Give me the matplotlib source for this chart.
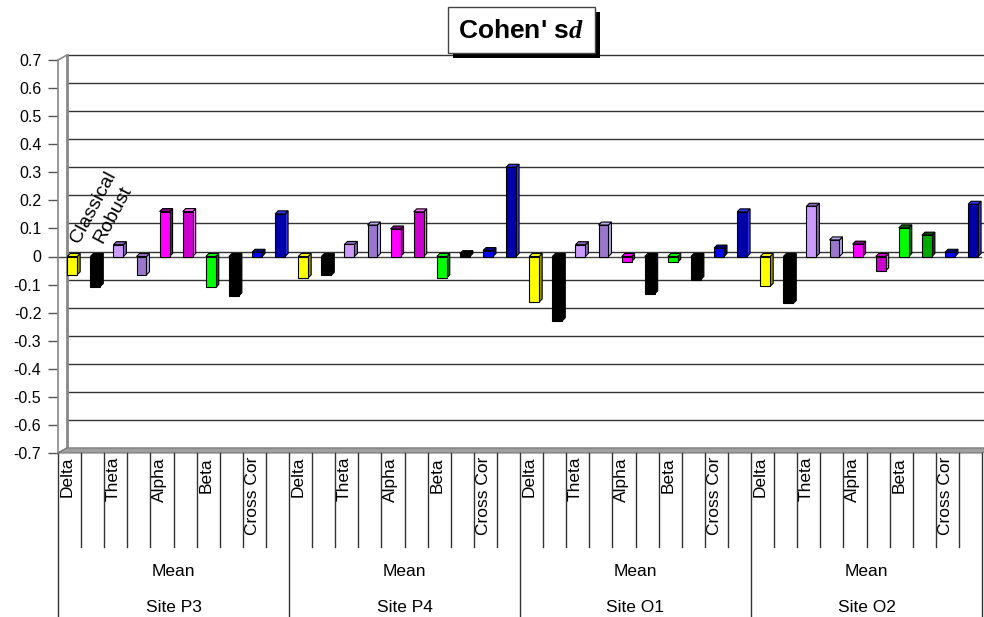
import matplotlib
matplotlib.use('Agg')
import matplotlib.pyplot as plt
from matplotlib.patches import Rectangle, Polygon

plt.rcParams['font.family'] = ['Liberation Sans', 'DejaVu Sans']
plt.rcParams['mathtext.fontset'] = 'custom'
plt.rcParams['mathtext.it'] = 'Liberation Serif:italic:bold'

# 数据：每个位点 10 根柱（5 个频带 × Classical/Robust）
sites = ['Site P3', 'Site P4', 'Site O1', 'Site O2']
bands = ['Delta', 'Theta', 'Alpha', 'Beta', 'Cross Cor']
methods = ['Classical', 'Robust']
site_p3 = [-0.065, -0.107, 0.042, -0.065, 0.160, 0.160, -0.110, -0.140, 0.015, 0.152]
site_p4 = [-0.076, -0.067, 0.043, 0.112, 0.098, 0.159, -0.076, 0.010, 0.021, 0.318]
site_o1 = [-0.162, -0.229, 0.042, 0.112, -0.018, -0.133, -0.020, -0.082, 0.030, 0.159]
site_o2 = [-0.106, -0.167, 0.179, 0.059, 0.044, -0.051, 0.102, 0.076, 0.015, 0.186]
values = site_p3 + site_p4 + site_o1 + site_o2
yticks = [-0.7, -0.6, -0.5, -0.4, -0.3, -0.2, -0.1, 0, 0.1, 0.2, 0.3, 0.4, 0.5, 0.6, 0.7]

# 颜色
base_colors = ['#FFFF00', '#000000', '#CC99FF', '#9977CC', '#FF00FF',
               '#CC00CC', '#00FF00', '#000000', '#0000FF', '#0000AA']
side_colors = {'#FFFF00': '#999900', '#000000': '#000000', '#CC99FF': '#8866BB',
               '#9977CC': '#BBAAEE', '#FF00FF': '#880088', '#CC00CC': '#FF66FF',
               '#00FF00': '#006600', '#0000FF': '#000088', '#0000AA': '#3333FF',
               '#00AA00': '#004400'}
bar_colors = base_colors * 4
bar_colors[25] = '#000000'   # O1 Alpha Robust
bar_colors[37] = '#00AA00'   # O2 Beta Robust

W, H = 984, 617
ax_left, ax_right, ax_top, ax_bottom = 58, 982, 60, 453
fig = plt.figure(figsize=(W / 100, H / 100), dpi=100)
ax = fig.add_axes([ax_left / W, 1 - ax_bottom / H,
                   (ax_right - ax_left) / W, (ax_bottom - ax_top) / H])
n = len(values)
ax.set_xlim(0, n)
ax.set_ylim(-0.7, 0.7)

px_x = (ax_right - ax_left) / n          # 每格像素
px_y = (ax_bottom - ax_top) / 1.4        # 每单位像素
DX, DY = 9 / px_x, 5 / px_y              # 背墙偏移
bdx, bdy = 3 / px_x, 3 / px_y            # 柱子厚度

# 背墙网格线
for v in yticks:
    ax.plot([DX, n + DX], [v + DY, v + DY], color='#333333', lw=1.0,
            clip_on=False, zorder=1)
# 左侧墙与底面
ax.plot([DX, DX], [-0.7 + DY, 0.7 + DY], color='#888888', lw=2, clip_on=False, zorder=1)
ax.plot([0, DX], [0.7, 0.7 + DY], color='#888888', lw=1.2, clip_on=False, zorder=1)
ax.plot([0, DX], [-0.7, -0.7 + DY], color='#888888', lw=1.2, clip_on=False, zorder=1)
ax.add_patch(Polygon([(0, -0.7), (n, -0.7), (n + DX, -0.7 + DY), (DX, -0.7 + DY)],
                     closed=True, facecolor='#A0A0A0', edgecolor='#777777',
                     lw=0.8, clip_on=False, zorder=2))
ax.plot([0, n], [0, 0], color='#444444', lw=1.0, zorder=2)

# 柱子
for i, (v, c) in enumerate(zip(values, bar_colors)):
    x0, x1 = i + 0.40, i + 0.83
    sc = side_colors[c]
    ec = 'black'
    top = max(v, 0)
    ax.add_patch(Polygon([(x1, 0), (x1, v), (x1 + bdx, v + bdy), (x1 + bdx, bdy)],
                         closed=True, facecolor=sc, edgecolor=ec, lw=0.8, zorder=3))
    ax.add_patch(Polygon([(x0, top), (x1, top), (x1 + bdx, top + bdy), (x0 + bdx, top + bdy)],
                         closed=True, facecolor=sc if v >= 0 else c, edgecolor=ec,
                         lw=0.8, zorder=3))
    ax.add_patch(Rectangle((x0, 0), x1 - x0, v, facecolor=c, edgecolor=ec,
                           lw=0.8, zorder=4))

# 坐标轴
for s in ['top', 'right', 'bottom']:
    ax.spines[s].set_visible(False)
ax.spines['left'].set_color('#888888')
ax.spines['left'].set_linewidth(1.2)
ax.set_yticks(yticks)
ax.set_yticklabels(['0' if t == 0 else f'{t:.1f}' for t in yticks], fontsize=11.5)
ax.tick_params(axis='y', direction='out', length=7, width=1, color='#555555', pad=5)
ax.set_xticks([])

# 分类标签
xt = ax.get_xaxis_transform()
tick_bottom = -(547 - ax_bottom) / (ax_bottom - ax_top)
fig_bottom = -(H - ax_bottom) / (ax_bottom - ax_top)
for k in range(n + 1):
    yb = fig_bottom if k % 10 == 0 else tick_bottom
    ax.plot([k, k], [0, yb], transform=xt, color='#333333', lw=1,
            clip_on=False)
for s, site in enumerate(sites):
    for b, band in enumerate(bands):
        ax.text(s * 10 + b * 2 + 0.40, -0.01, band, transform=xt, rotation=90,
                ha='center', va='top', fontsize=12.5)
    ax.text(s * 10 + 5, -(572 - ax_bottom) / (ax_bottom - ax_top), 'Mean',
            transform=xt, ha='center', va='center', fontsize=12.5)
    ax.text(s * 10 + 5, -(607 - ax_bottom) / (ax_bottom - ax_top), site,
            transform=xt, ha='center', va='center', fontsize=12.5)

# Classical / Robust 斜向标签
for j, m in enumerate(methods):
    ax.text(j + 0.92, 0.045, m, rotation=62, rotation_mode='anchor',
            ha='left', va='baseline', fontsize=14, zorder=5)

# 标题框（带阴影）
fig.add_artist(Rectangle((453 / W, 1 - 58 / H), 147 / W, 46 / H,
                         transform=fig.transFigure, facecolor='black', edgecolor='none'))
fig.add_artist(Rectangle((448 / W, 1 - 53 / H), 147 / W, 46 / H,
                         transform=fig.transFigure, facecolor='white',
                         edgecolor='#444444', lw=1))
fig.text(521 / W, 1 - 31 / H, r"Cohen' s$\mathit{d}$", ha='center', va='center',
         fontsize=19, fontweight='bold')

fig.savefig('out.png', dpi=100)
